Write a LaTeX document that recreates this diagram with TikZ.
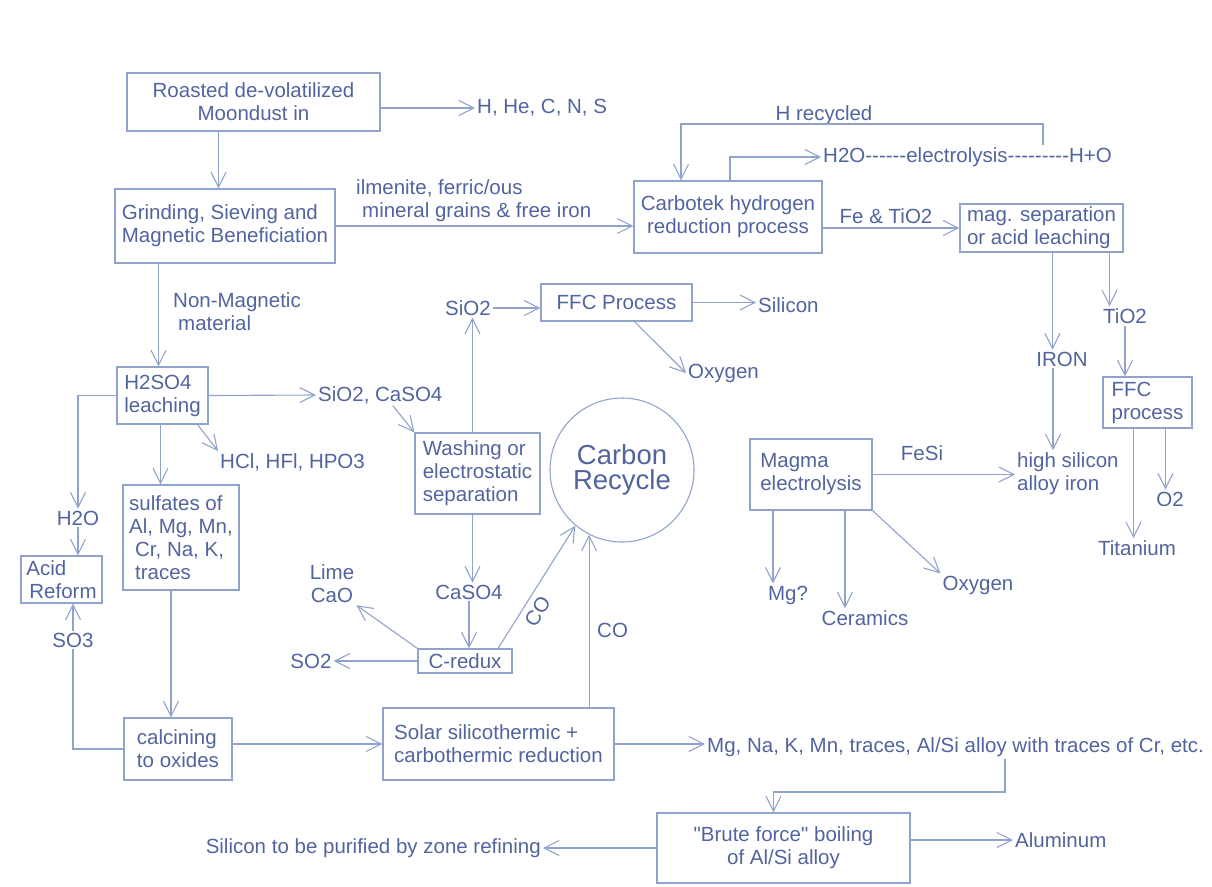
\documentclass[tikz,border=0pt]{standalone}
\usepackage{fontspec}
\setmainfont{Liberation Sans}[Ligatures=TeXOff]
\usepackage{tikz}
\definecolor{linec}{RGB}{145,163,204}
\definecolor{txtc}{RGB}{82,100,158}
\tikzstyle{box} = [rectangle, draw = linec, line width=1.1pt, text=txtc, inner sep=2pt]
\tikzstyle{lbl} = [text=txtc, inner sep=2pt]
\tikzstyle{hub} = [circle, draw = linec, line width=1.1pt, text=txtc, minimum size=144pt, align=center, font=\fontsize{27.5}{25}\selectfont]
\tikzstyle{arrow} = [->, >={Straight Barb[length=15pt,width=15pt]}, draw=linec, line width=1.1pt]
\tikzstyle{wire} = [draw=linec, line width=1.1pt]
\usetikzlibrary{arrows.meta, positioning}

\begin{document}
\begin{tikzpicture}[x=1pt, y=-1pt, font=\fontsize{20.5}{23}\selectfont]
      \useasboundingbox (0,0) rectangle (1212,886);
      % process boxes
      \node[box, minimum width=253pt, minimum height=58pt, align=center] (moon) at (253.5,102) {Roasted de-volatilized\\Moondust in};
      \node[box, minimum width=220pt, minimum height=74pt, align=left] (grind) at (225,226) {Grinding, Sieving and\\Magnetic Beneficiation};
      \node[box, minimum width=188pt, minimum height=72pt, align=center] (carbotek) at (728,217) {Carbotek hydrogen\\reduction process};
      \node[box, minimum width=163pt, minimum height=48pt, align=left] (magsep) at (1041.5,228) {mag. separation\\or acid leaching};
      \node[box, minimum width=151pt, minimum height=37pt] (ffc1) at (616.5,302.5) {FFC Process};
      \node[box, minimum width=125pt, minimum height=81pt, align=left] (washing) at (477.5,473.5) {Washing or\\electrostatic\\separation};
      \node[hub] (carbon) at (622,470) {Carbon\\Recycle};
      \node[box, minimum width=91pt, minimum height=57pt, align=left] (h2so4) at (162.5,395.5) {H2SO4\\leaching};
      \node[box, minimum width=116pt, minimum height=105pt, align=left] (sulfates) at (181,537.5) {sulfates of\\Al, Mg, Mn,\\\hspace*{6pt}Cr, Na, K,\\\hspace*{6pt}traces};
      \node[box, minimum width=81pt, minimum height=47pt, align=left] (acid) at (61.5,579.5) {Acid\\\hspace*{3pt}Reform};
      \node[box, minimum width=94pt, minimum height=24pt, inner sep=1pt] (credux) at (465,661) {C-redux};
      \node[box, minimum width=108pt, minimum height=62pt, align=left] (calcining) at (178,749) {calcining\\to oxides};
      \node[box, minimum width=231pt, minimum height=72pt, align=left] (solar) at (498.5,744) {Solar silicothermic +\\carbothermic reduction};
      \node[box, minimum width=122pt, minimum height=71pt, align=left] (magma) at (811,474.5) {Magma\\electrolysis};
      \node[box, minimum width=89pt, minimum height=51pt, align=left] (ffc2) at (1147.5,402.5) {FFC\\process};
      \node[box, minimum width=253pt, minimum height=70pt, align=center] (brute) at (783.5,848) {"Brute force" boiling\\of Al/Si alloy};

      % products and stream labels
      \node[lbl, anchor=west] (hhe) at (475,108) {H, He, C, N, S};
      \node[lbl, anchor=west, align=left] (ilmen) at (354,201) {ilmenite, ferric/ous\\\hspace*{6pt}mineral grains \& free iron};
      \node[lbl] (hrec) at (824,115) {H recycled};
      \node[lbl, anchor=west] (elec) at (821,157) {H2O------electrolysis---------H+O};
      \node[lbl] (fetio) at (886,216) {Fe \& TiO2};
      \node[lbl] (tio2) at (1125,316) {TiO2};
      \node[lbl] (iron) at (1062,359) {IRON};
      \node[lbl, anchor=west, align=left] (highsi) at (1015,473.5) {high silicon\\alloy iron};
      \node[lbl] (fesi) at (922,453) {FeSi};
      \node[lbl] (o2) at (1170,499) {O2};
      \node[lbl] (titan) at (1137,548) {Titanium};
      \node[lbl] (mg) at (788,595) {Mg?};
      \node[lbl] (ceram) at (865,618) {Ceramics};
      \node[lbl] (oxy2) at (978,585) {Oxygen};
      \node[lbl] (sio2) at (468,308) {SiO2};
      \node[lbl, anchor=west] (silicon) at (756,305) {Silicon};
      \node[lbl, anchor=west] (oxy1) at (686,373) {Oxygen};
      \node[lbl, anchor=west, align=left] (nonmag) at (171,311.5) {Non-Magnetic\\\hspace*{5pt}material};
      \node[lbl, anchor=west] (sioca) at (316,395) {SiO2, CaSO4};
      \node[lbl, anchor=west] (hcl) at (218,462) {HCl, HFl, HPO3};
      \node[lbl] (h2o) at (78,518) {H2O};
      \node[lbl] (so3) at (73,640) {SO3};
      \node[lbl, align=center] (lime) at (332,584) {Lime\\CaO};
      \node[lbl] (caso4) at (469,592) {CaSO4};
      \node[lbl, anchor=west] (covert) at (595,630) {CO};
      \node[lbl] (so2) at (311,661) {SO2};
      \node[lbl, anchor=west] (alloys) at (705,747) {Mg, Na, K, Mn, traces, Al/Si alloy with traces of Cr, etc.};
      \node[lbl, anchor=west] (alum) at (1013,840) {Aluminum};
      \node[lbl, anchor=east] (zone) at (543,848) {Silicon to be purified by zone refining};

      \coordinate (hstart) at (1043,145);
      \coordinate (hturn) at (1043,124);
      \coordinate (abend) at (1005,792);

      % top row
      \draw[arrow] (moon.east |- hhe.west) -- (hhe.west);
      \draw[arrow] ([xshift=-35pt]moon.south) -- ([xshift=-35pt]moon.south |- grind.north);
      \draw[arrow] (grind.east) -- (grind.east -| carbotek.west);
      \draw[arrow] (hstart) -- (hturn) -| ([xshift=-47pt]carbotek.north);
      \draw[arrow] ([xshift=2pt]carbotek.north) |- (elec.west);
      \draw[arrow] (carbotek.east |- magsep.west) -- (magsep.west);
      \draw[arrow] ([xshift=11pt]magsep.south) -- ([xshift=11pt]magsep.south |- iron.north);
      \draw[arrow] ([xshift=68pt]magsep.south) -- ([xshift=68pt]magsep.south |- tio2.north);
      \draw[arrow] (tio2.south) -- (tio2.south |- ffc2.north);
      \draw[arrow] ([xshift=-14pt]ffc2.south) -- ([xshift=-14pt]ffc2.south |- titan.north);
      \draw[arrow] ([xshift=18pt]ffc2.south) -- ([xshift=18pt]ffc2.south |- o2.north);
      \draw[arrow] ([xshift=-9pt]iron.south) -- ([xshift=-9pt]iron.south |- highsi.north);

      % magma
      \draw[arrow] (magma.east) -- (magma.east -| highsi.west);
      \draw[arrow] ([xshift=-38pt]magma.south) -- ([xshift=-38pt]magma.south |- mg.north);
      \draw[arrow] ([xshift=34pt]magma.south) -- ([xshift=34pt]magma.south |- ceram.north);
      \draw[arrow] (magma.south east) -- (oxy2.north west);

      % leaching branch
      \draw[arrow] ([xshift=-4pt]h2so4.north |- grind.south) -- ([xshift=-4pt]h2so4.north);
      \draw[arrow] (h2so4.east) -- (sioca.west);
      \draw[arrow] ([xshift=-11pt]h2so4.south east) -- (hcl.north west);
      \draw[arrow] ([xshift=-2pt]h2so4.south) -- ([xshift=-2pt]h2so4.south |- sulfates.north);
      \draw[arrow] (h2so4.west) -| (h2o.north);
      \draw[arrow] (h2o.south) -- (h2o.south |- acid.north);
      \draw[wire] (calcining.west) -| (so3.south);
      \draw[arrow] (so3.north) -- (so3.north |- acid.south);
      \draw[arrow] ([xshift=-10pt]sulfates.south) -- ([xshift=-10pt]sulfates.south |- calcining.north);
      \draw[arrow] (solar.west -| calcining.east) -- (solar.west);

      % silica and carbon loop
      \draw[arrow] ([xshift=77pt]sioca.south west) -- (washing.north west);
      \draw[arrow] ([xshift=-5pt]washing.north) -- ([xshift=-5pt]washing.north |- sio2.south);
      \draw[arrow] (sio2.east) -- (sio2.east -| ffc1.west);
      \draw[arrow] (ffc1.east) -- (ffc1.east -| silicon.west);
      \draw[arrow] ([xshift=18pt]ffc1.south) -- (oxy1.west);
      \draw[arrow] ([xshift=-5pt]washing.south) -- ([xshift=-5pt]washing.south |- caso4.north);
      \draw[arrow] (caso4.south) -- (caso4.south |- credux.north);
      \draw[arrow] (credux.north west) -- (lime.south east);
      \draw[arrow] (credux.west) -- (so2.east);
      \draw[arrow] ([xshift=33pt]credux.north) -- node[lbl, pos=0.36, sloped, below=4pt] {CO} (carbon.-130);
      \draw[arrow] (carbon.-117 |- solar.north) -- (carbon.-117);

      % metals
      \draw[arrow] (solar.east) -- (solar.east -| alloys.west);
      \draw[arrow] (alloys.south -| abend) -- (abend) -| ([xshift=-10pt]brute.north);
      \draw[arrow] (brute.east |- alum.west) -- (alum.west);
      \draw[arrow] (brute.west) -- (zone.east);
\end{tikzpicture}
\end{document}
